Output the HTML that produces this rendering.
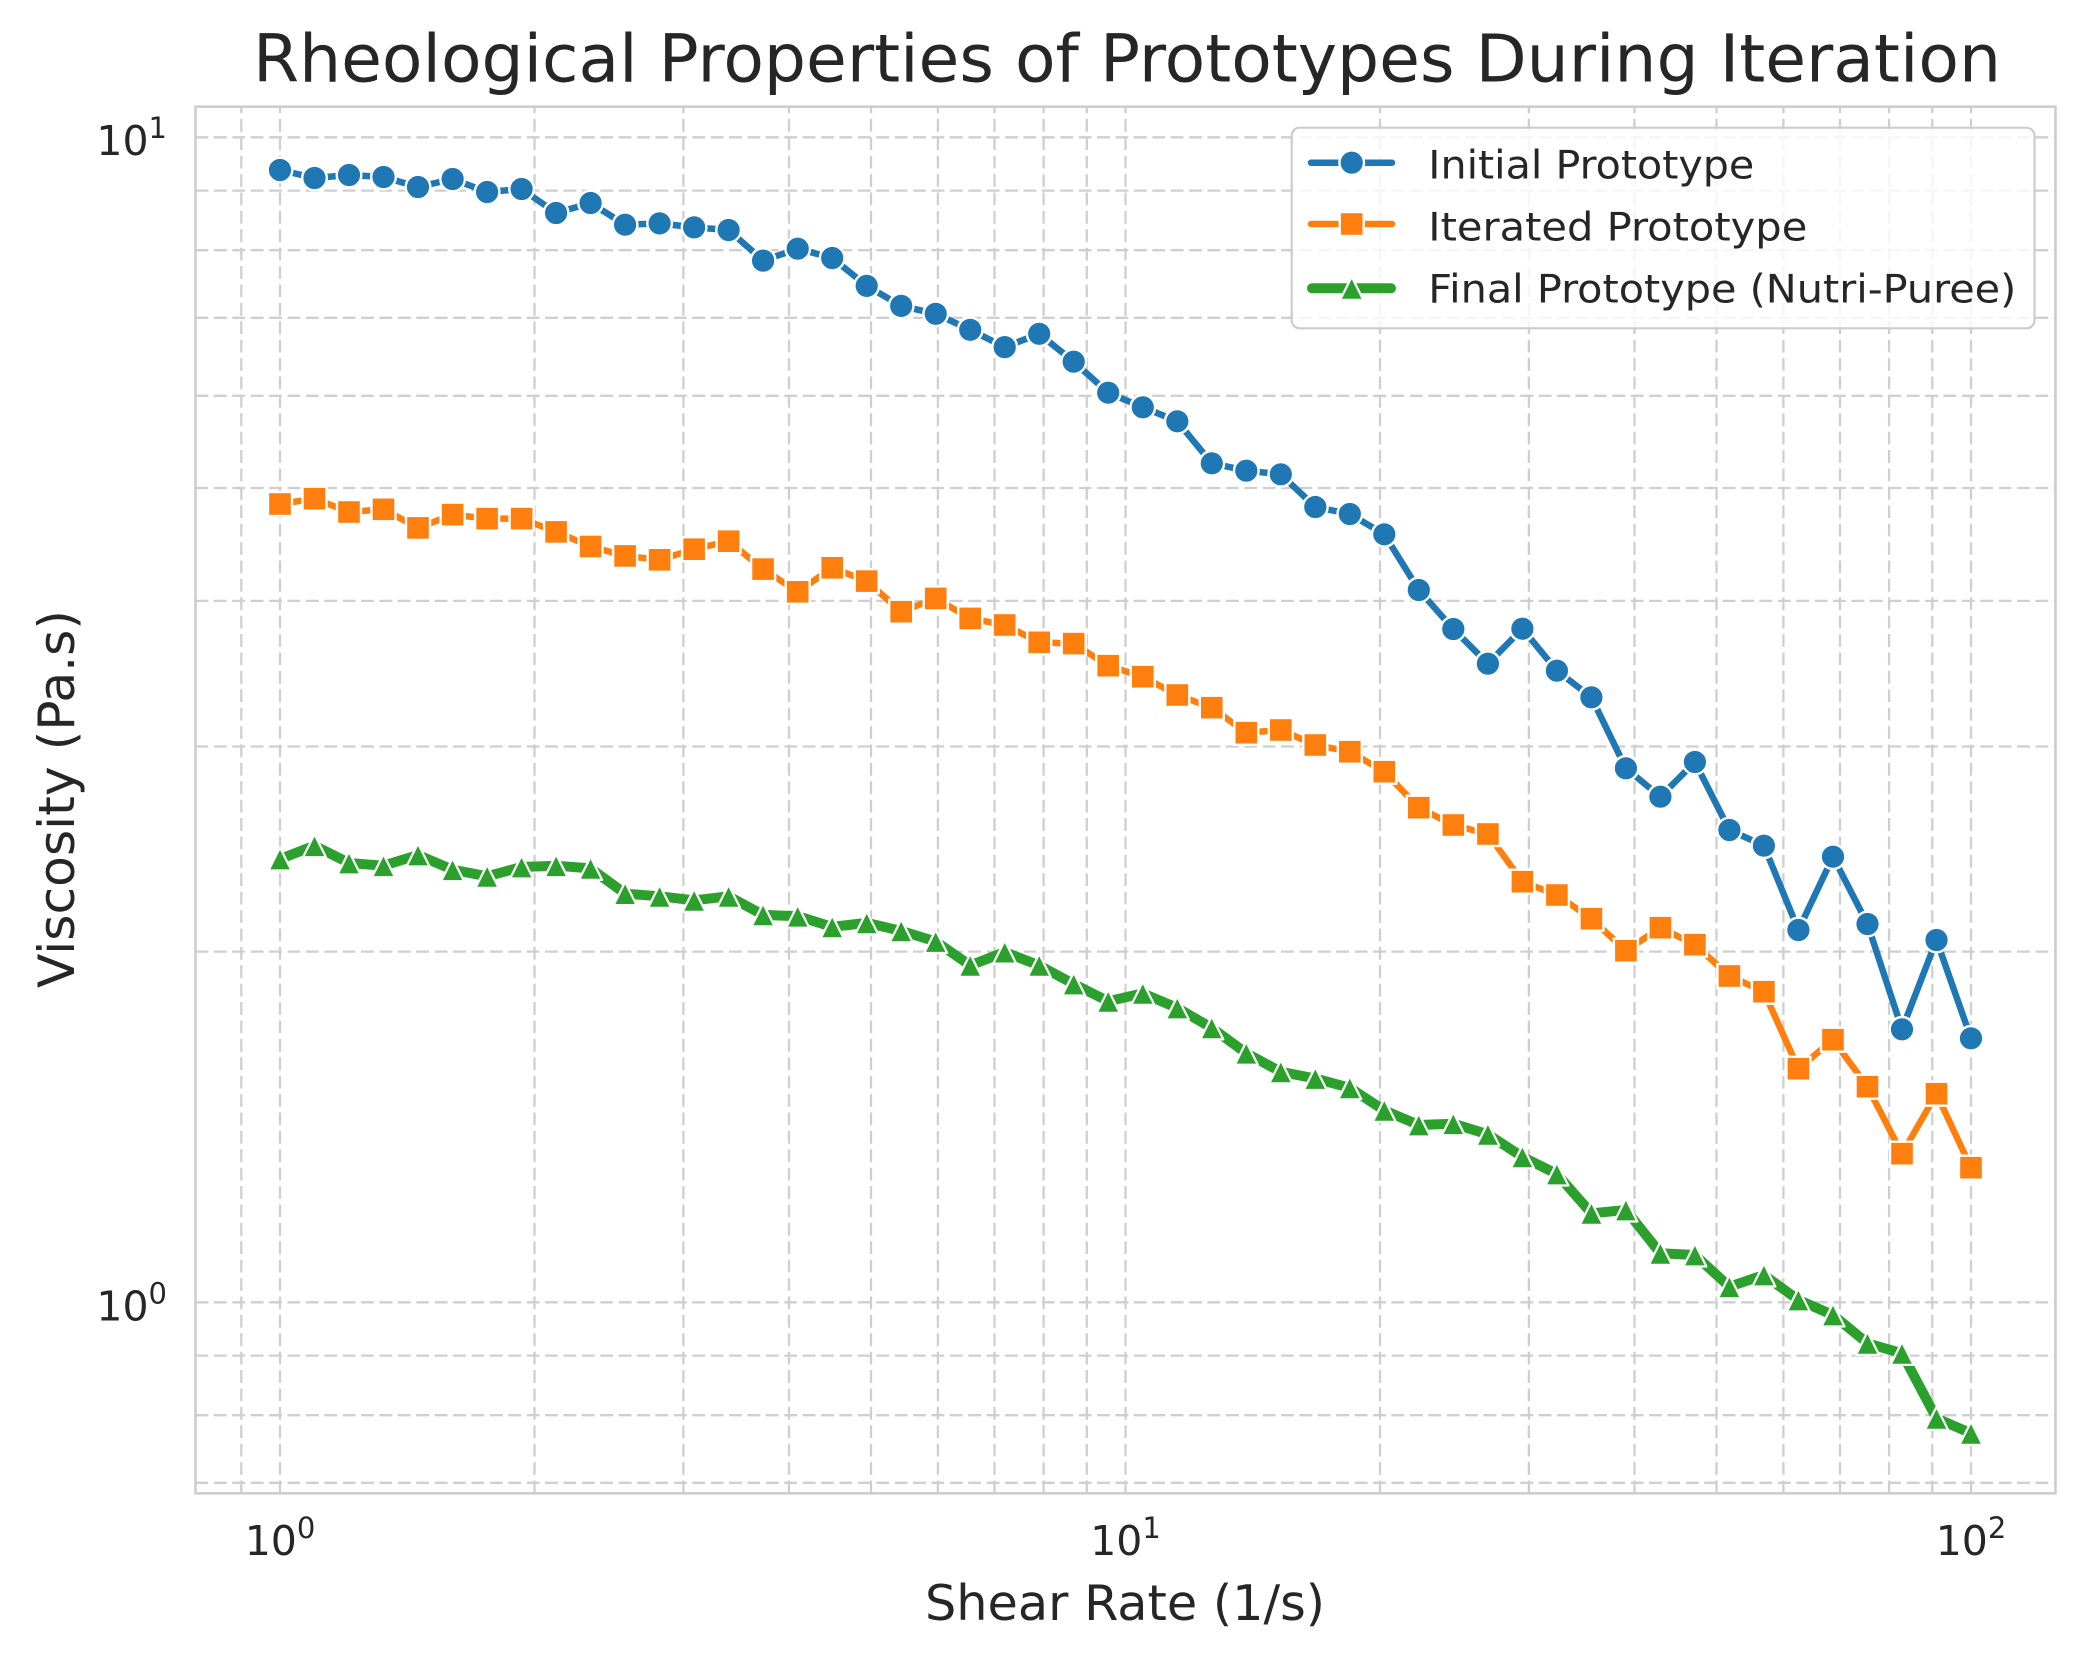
<!DOCTYPE html>
<html>
<head>
<meta charset="utf-8">
<style>
html,body{margin:0;padding:0;background:#ffffff;}
svg{display:block;}
</style>
</head>
<body>
<svg xmlns="http://www.w3.org/2000/svg" width="2085" height="1659" viewBox="0 0 2085 1659" font-family="'DejaVu Sans','Liberation Sans',sans-serif">
<defs>
<marker id="mb" markerUnits="userSpaceOnUse" viewBox="-16 -16 32 32" markerWidth="32" markerHeight="32" refX="0" refY="0" overflow="visible">
<circle cx="0" cy="0" r="12.3" fill="#1f77b4" stroke="#ffffff" stroke-width="2.4"/>
</marker>
<marker id="mo" markerUnits="userSpaceOnUse" viewBox="-16 -16 32 32" markerWidth="32" markerHeight="32" refX="0" refY="0" overflow="visible">
<rect x="-12" y="-12" width="24" height="24" fill="#ff7f0e" stroke="#ffffff" stroke-width="2.4"/>
</marker>
<marker id="mg" markerUnits="userSpaceOnUse" viewBox="-16 -16 32 32" markerWidth="32" markerHeight="32" refX="0" refY="0" overflow="visible">
<path d="M0,-11.5 L-11.5,11.5 L11.5,11.5 Z" fill="#2ca02c" stroke="#ffffff" stroke-width="2.2" stroke-linejoin="round"/>
</marker>
</defs>

<rect x="0" y="0" width="2085" height="1659" fill="#ffffff"/>

<!-- grid -->
<g stroke="#cfcfcf" stroke-width="2.3" stroke-dasharray="12.8,5.6" fill="none">
<path d="M195.5,137.3H2055.5 M195.5,190.6H2055.5 M195.5,250.2H2055.5 M195.5,317.8H2055.5 M195.5,395.8H2055.5 M195.5,488H2055.5 M195.5,600.9H2055.5 M195.5,746.5H2055.5 M195.5,951.6H2055.5 M195.5,1302.3H2055.5 M195.5,1355.6H2055.5 M195.5,1415.2H2055.5 M195.5,1482.8H2055.5"/>
<path d="M241.3,1493.3V106.7 M280,1493.3V106.7 M534.5,1493.3V106.7 M683.4,1493.3V106.7 M789,1493.3V106.7 M871,1493.3V106.7 M937.9,1493.3V106.7 M994.5,1493.3V106.7 M1043.6,1493.3V106.7 M1086.8,1493.3V106.7 M1125.5,1493.3V106.7 M1380,1493.3V106.7 M1528.9,1493.3V106.7 M1634.5,1493.3V106.7 M1716.5,1493.3V106.7 M1783.4,1493.3V106.7 M1840,1493.3V106.7 M1889.1,1493.3V106.7 M1932.3,1493.3V106.7 M1971,1493.3V106.7"/>
</g>

<!-- series -->
<polyline fill="none" stroke="#1f77b4" stroke-width="6.5" stroke-linejoin="round" stroke-linecap="round" marker-start="url(#mb)" marker-mid="url(#mb)" marker-end="url(#mb)"
points="280,170 314.5,178 349,175 383.5,177 418,187 452.6,179 487.1,192 521.6,189 556.1,213 590.6,203 625.1,224.7 659.6,223.4 694.1,227.4 728.6,230 763.1,260.6 797.7,248.7 832.2,258 866.7,285.9 901.2,305.9 935.7,313.8 970.2,329.8 1004.7,347.1 1039.2,333.8 1073.7,361.7 1108.2,392.7 1142.8,407.3 1177.3,421.3 1211.8,463.3 1246.3,470.7 1280.8,474.3 1315.3,507 1349.8,514 1384.3,534.3 1418.8,590 1453.3,629 1487.9,663.7 1522.4,628.7 1556.9,670.7 1591.4,697.3 1625.9,768.3 1660.4,796.7 1694.9,762 1729.4,830 1763.9,845.7 1798.4,930 1833,856.7 1867.5,924 1902,1029.3 1936.5,940 1971,1038.3"/>

<polyline fill="none" stroke="#ff7f0e" stroke-width="6.5" stroke-linejoin="round" stroke-linecap="round" marker-start="url(#mo)" marker-mid="url(#mo)" marker-end="url(#mo)"
points="280,504 314.5,498.7 349,512 383.5,509.3 418,527.9 452.6,514.6 487.1,518.6 521.6,518.6 556.1,531.9 590.6,546.5 625.1,555.9 659.6,559.8 694.1,549.2 728.6,541.2 763.1,569.1 797.7,591.8 832.2,567.8 866.7,581.1 901.2,611.7 935.7,598.4 970.2,618.4 1004.7,625 1039.2,642.3 1073.7,643.6 1108.2,665.7 1142.8,676.7 1177.3,695 1211.8,707.7 1246.3,732.7 1280.8,730 1315.3,745 1349.8,751.7 1384.3,771.7 1418.8,807.7 1453.3,825 1487.9,834 1522.4,881.7 1556.9,895 1591.4,918.7 1625.9,950.7 1660.4,927.7 1694.9,944.7 1729.4,976 1763.9,991.7 1798.4,1068.7 1833,1039.7 1867.5,1086.7 1902,1153.7 1936.5,1093.7 1971,1167.7"/>

<polyline fill="none" stroke="#2ca02c" stroke-width="10" stroke-linejoin="round" stroke-linecap="round" marker-start="url(#mg)" marker-mid="url(#mg)" marker-end="url(#mg)"
points="280,859 314.5,845.7 349,863 383.5,865.7 418,855 452.6,869.7 487.1,876.3 521.6,867 556.1,865.7 590.6,868.4 625.1,893.6 659.6,896.3 694.1,900.3 728.6,896.3 763.1,914.9 797.7,916.2 832.2,926.9 866.7,922.9 901.2,930.9 935.7,941.5 970.2,965.4 1004.7,952.1 1039.2,965.4 1073.7,984 1108.2,1001.3 1142.8,993.4 1177.3,1008 1211.8,1027.9 1246.3,1053.2 1280.8,1071.8 1315.3,1078.5 1349.8,1087.8 1384.3,1110.4 1418.8,1125 1453.3,1123.7 1487.9,1134.3 1522.4,1156.9 1556.9,1174 1591.4,1213.3 1625.9,1210 1660.4,1253.3 1694.9,1255 1729.4,1286.7 1763.9,1275 1798.4,1300 1833,1315 1867.5,1343.3 1902,1353.3 1936.5,1418.3 1971,1433.3"/>

<!-- spines -->
<rect x="195.5" y="106.7" width="1860" height="1386.6" fill="none" stroke="#cccccc" stroke-width="2.5"/>

<!-- legend -->
<rect x="1291.7" y="127.7" width="742.8" height="200.6" rx="8" ry="8" fill="#ffffff" fill-opacity="0.8" stroke="#cccccc" stroke-width="2.2"/>
<line x1="1311" y1="162.7" x2="1392" y2="162.7" stroke="#1f77b4" stroke-width="6.5" stroke-linecap="round"/>
<circle cx="1351.7" cy="162.7" r="12.3" fill="#1f77b4" stroke="#ffffff" stroke-width="2.4"/>
<line x1="1311" y1="224" x2="1392" y2="224" stroke="#ff7f0e" stroke-width="6.5" stroke-linecap="round"/>
<rect x="1339.7" y="212" width="24" height="24" fill="#ff7f0e" stroke="#ffffff" stroke-width="2.4"/>
<line x1="1312" y1="288.3" x2="1391" y2="288.3" stroke="#2ca02c" stroke-width="10" stroke-linecap="round"/>
<path d="M1351.7,276.8 L1340.2,299.8 L1363.2,299.8 Z" fill="#2ca02c" stroke="#ffffff" stroke-width="2.2" stroke-linejoin="round"/>
<g fill="#262626" font-size="39">
<text x="1428.3" y="178.3" textLength="326" lengthAdjust="spacingAndGlyphs">Initial Prototype</text>
<text x="1428.3" y="240.5" textLength="379" lengthAdjust="spacingAndGlyphs">Iterated Prototype</text>
<text x="1428.3" y="302.7" textLength="588" lengthAdjust="spacingAndGlyphs">Final Prototype (Nutri-Puree)</text>
</g>

<!-- tick labels -->
<g fill="#262626" font-size="41">
<text x="280" y="1555" text-anchor="middle">10<tspan font-size="29" dy="-17">0</tspan></text>
<text x="1125.5" y="1555" text-anchor="middle">10<tspan font-size="29" dy="-17">1</tspan></text>
<text x="1971" y="1555" text-anchor="middle">10<tspan font-size="29" dy="-17">2</tspan></text>
<text x="167" y="155" text-anchor="end">10<tspan font-size="29" dy="-17">1</tspan></text>
<text x="167" y="1320.3" text-anchor="end">10<tspan font-size="29" dy="-17">0</tspan></text>
</g>

<!-- axis labels -->
<text x="925" y="1620" font-size="49.2" fill="#262626" textLength="400" lengthAdjust="spacingAndGlyphs">Shear Rate (1/s)</text>
<text transform="translate(74,799) rotate(-90)" x="0" y="0" text-anchor="middle" font-size="49.5" fill="#262626" textLength="378" lengthAdjust="spacingAndGlyphs">Viscosity (Pa.s)</text>

<!-- title -->
<text x="253" y="81.5" font-size="66" fill="#262626" textLength="1748" lengthAdjust="spacingAndGlyphs">Rheological Properties of Prototypes During Iteration</text>
</svg>
</body>
</html>
